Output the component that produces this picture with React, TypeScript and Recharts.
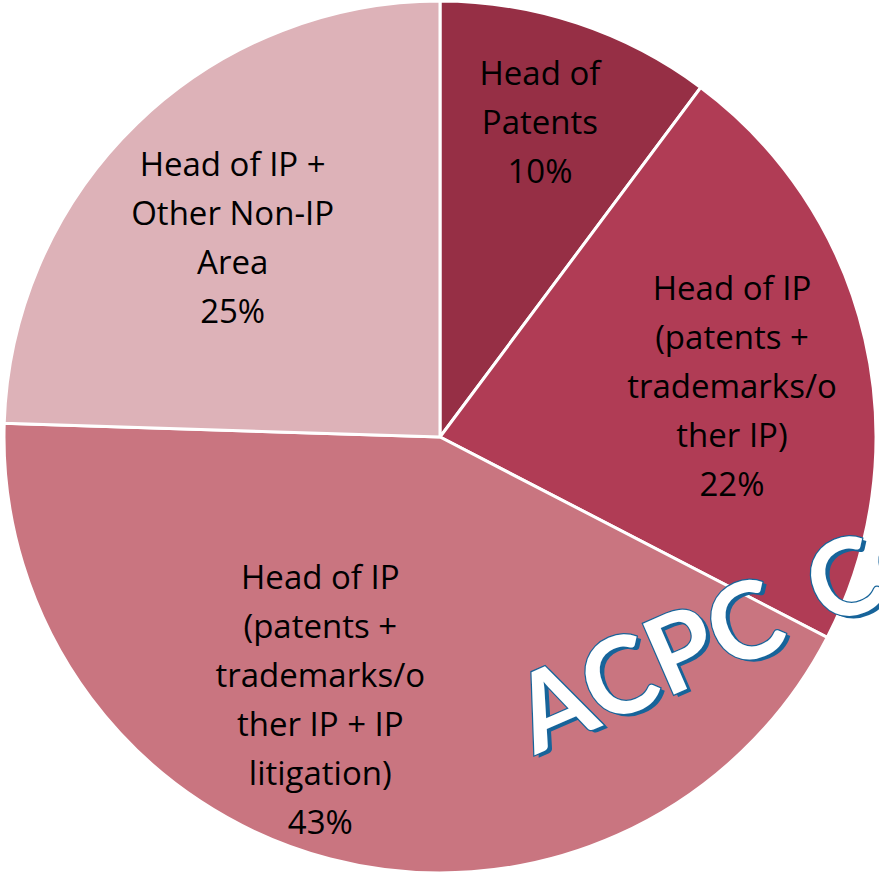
import { PieChart, Pie, Cell } from "recharts";

const CATEGORIES = [
  ["Head of", "Patents"],
  ["Head of IP", "(patents +", "trademarks/o", "ther IP)"],
  ["Head of IP", "(patents +", "trademarks/o", "ther IP + IP", "litigation)"],
  ["Head of IP +", "Other Non-IP", "Area"],
];
const SHARES = [10.2, 22.4, 42.9, 24.5];
const COLORS = ["#962F45", "#B03C55", "#C97580", "#DDB2B8"];

const data = CATEGORIES.map((lines, i) => ({ name: lines.join(" "), lines, value: SHARES[i] }));

// radius fraction and angle shift (deg) for each data label
const LABEL_POS = [
  [0.76, 0.8],
  [0.68, -3],
  [0.66, -10],
  [0.66, 2],
];

const RAD = Math.PI / 180;
const LINE_H = 49;

function SliceLabel({ cx, cy, midAngle, outerRadius, index }: any) {
  const [f, shift] = LABEL_POS[index];
  const a = (midAngle + shift) * RAD;
  const x = cx + outerRadius * f * Math.cos(a);
  const y = cy - outerRadius * f * Math.sin(a);
  const lines = [...data[index].lines, `${Math.round(data[index].value)}%`];
  const top = y - ((lines.length - 1) * LINE_H) / 2;
  return (
    <text
      x={x}
      y={top}
      textAnchor="middle"
      fill="#000"
      fontSize={33}
      fontFamily="'Open Sans', 'Noto Sans', sans-serif"
    >
      {lines.map((l, i) => (
        <tspan key={i} x={x} y={top + i * LINE_H} dominantBaseline="central">
          {l}
        </tspan>
      ))}
    </text>
  );
}

export default function App() {
  return (
    <div
      style={{
        position: "absolute",
        left: 0,
        top: 0,
        width: 879,
        height: 874,
        overflow: "hidden",
        background: "#fff",
      }}
    >
      <PieChart width={879} height={874} margin={{ top: 0, right: 0, bottom: 0, left: 0 }}>
        <Pie
          data={data}
          dataKey="value"
          nameKey="name"
          cx={440}
          cy={437}
          outerRadius={436}
          startAngle={90}
          endAngle={-270}
          stroke="#fff"
          strokeWidth={3}
          label={SliceLabel}
          labelLine={false}
          isAnimationActive={false}
        >
          {data.map((_, i) => (
            <Cell key={i} fill={COLORS[i]} />
          ))}
        </Pie>
      </PieChart>
      <svg
        width={879}
        height={874}
        style={{ position: "absolute", left: 0, top: 0, pointerEvents: "none" }}
      >
        <g transform="translate(535,755) rotate(-23.5)">
          <text
            x={3}
            y={4}
            fontSize={107}
            fontWeight={700}
            wordSpacing={12}
            fontFamily="Lato, 'Noto Sans', sans-serif"
            fill="#17649A"
          >
            ACPC Confidential
          </text>
          <text
            x={0}
            y={0}
            fontSize={107}
            fontWeight={700}
            wordSpacing={12}
            fontFamily="Lato, 'Noto Sans', sans-serif"
            fill="#fff"
            stroke="#17649A"
            strokeWidth={2.5}
            paintOrder="stroke"
          >
            ACPC Confidential
          </text>
        </g>
      </svg>
    </div>
  );
}
